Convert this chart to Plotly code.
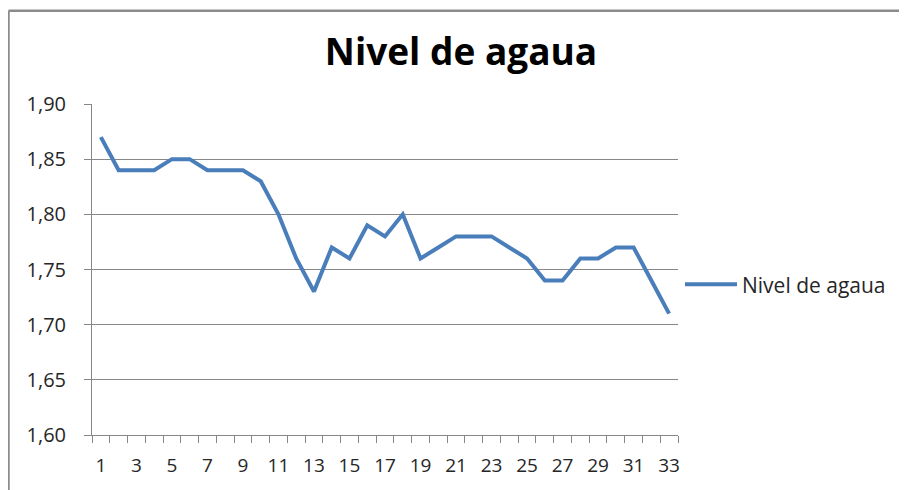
import plotly.graph_objects as go

days = list(range(1, 34))
nivel = [1.87, 1.84, 1.84, 1.84, 1.85, 1.85, 1.84, 1.84, 1.84, 1.83,
         1.80, 1.76, 1.73, 1.77, 1.76, 1.79, 1.78, 1.80, 1.76, 1.77,
         1.78, 1.78, 1.78, 1.77, 1.76, 1.74, 1.74, 1.76, 1.76, 1.77,
         1.77, 1.74, 1.71]
x_labels = list(range(1, 34, 2))
series_name = "Nivel de agaua"
title_text = "Nivel de agaua"

FONT = "Open Sans"
GRID = "#878787"
TXT = "#262626"

# page body adds an 8px offset; work in page pixels and subtract it
OFF = 8
PW, PH = 907, 490
W, H = PW - OFF, PH - OFF
ax_l, ax_r, ax_t, ax_b = 92, 678, 104, 441
L, R, T, B = ax_l - OFF, PW - ax_r, ax_t - OFF, PH - ax_b
pw, ph = ax_r - ax_l, ax_b - ax_t

fig = go.Figure()
fig.add_trace(go.Scatter(
    x=days, y=nivel, mode="lines", name=series_name,
    line=dict(color="#4a7ebb", width=4),
))

fig.update_layout(
    width=W, height=H,
    margin=dict(l=L, r=R, t=T, b=B),
    paper_bgcolor="white", plot_bgcolor="white",
    separators=",.",
    font=dict(family=FONT, size=19, color=TXT),
    title=dict(text="<b>" + title_text + "</b>", font=dict(family=FONT, size=37, color="#000"),
               x=(461 - OFF) / W, xref="container", xanchor="center",
               y=1 - (52 - OFF) / H, yref="container", yanchor="middle"),
    showlegend=True,
    legend=dict(x=(680 - ax_l) / pw, xanchor="left", y=(ax_b - 288) / ph, yanchor="middle",
                font=dict(family=FONT, size=21, color=TXT), itemwidth=52,
                bgcolor="rgba(0,0,0,0)"),
    xaxis=dict(
        range=[0.5, 33.5], tickmode="array", tickvals=x_labels,
        ticktext=[str(v) for v in x_labels], ticks="", showgrid=False,
        showline=True, linecolor=GRID, linewidth=1, zeroline=False,
        ticklabelstandoff=13,
        minor=dict(tick0=0.5, dtick=1, ticks="outside", ticklen=7, tickcolor=GRID, showgrid=False),
    ),
    yaxis=dict(
        range=[1.60, 1.90], dtick=0.05, tick0=1.60, tickformat=".2f",
        showgrid=True, gridcolor=GRID, gridwidth=1,
        showline=True, linecolor=GRID, linewidth=1, zeroline=False,
        ticks="outside", ticklen=7, tickcolor=GRID, ticklabelstandoff=14,
        tickfont=dict(family=FONT, size=20, color=TXT),
    ),
)

# chart frame (cropped in the reference: left and top edges visible)
x_left = (8.5 - ax_l) / pw
y_top = 1 + (ax_t - 9) / ph
fig.add_shape(type="line", xref="paper", yref="paper", x0=x_left, x1=x_left, y0=-0.5, y1=y_top,
              line=dict(color="#8c8c8c", width=2.5))
fig.add_shape(type="line", xref="paper", yref="paper", x0=x_left, x1=2, y0=y_top, y1=y_top,
              line=dict(color="#8c8c8c", width=2.5))

fig.write_html("out.html")
